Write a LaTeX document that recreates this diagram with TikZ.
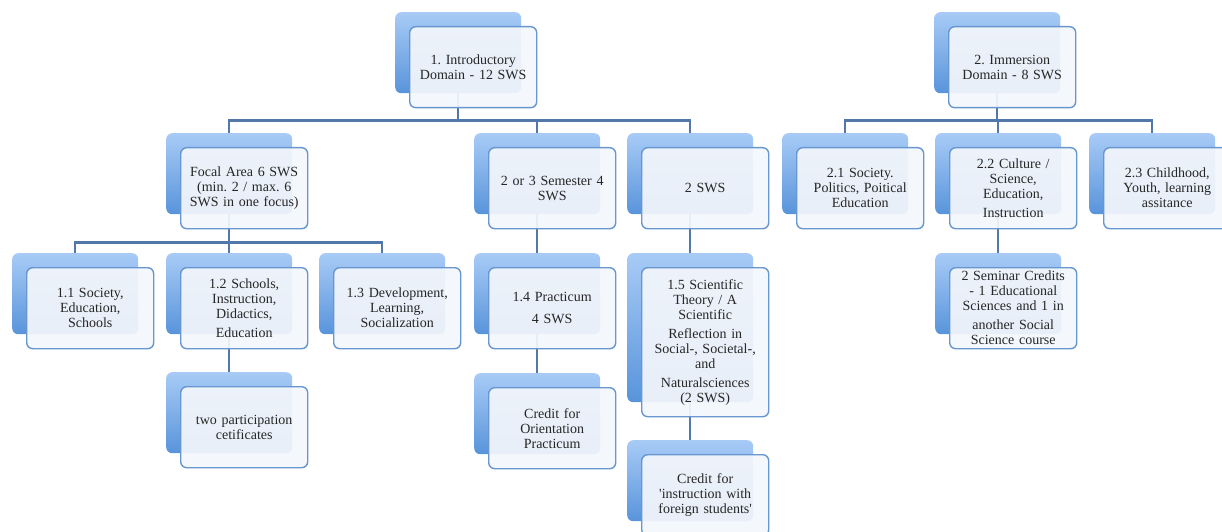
\documentclass[tikz,border=0pt]{standalone}
\usepackage{fontspec}
\setmainfont{Liberation Serif}
\usetikzlibrary{backgrounds}
\definecolor{backtop}{RGB}{168,203,246}
\definecolor{backbot}{RGB}{88,148,219}
\definecolor{frontfill}{RGB}{243,246,251}
\definecolor{frontline}{RGB}{104,150,206}
\definecolor{linkblue}{RGB}{82,120,170}
% [height]{name}{x}{y}{text}: blue card behind, light card in front
\newcommand{\sabox}[5][81]{%
  \node[backbox,minimum height=#1] (#2b) at (#3,#4) {};
  \node[frontbox,minimum height=#1] (#2) at ([shift={(14,-14)}]#2b.north west) {#5};}
\begin{document}
\frenchspacing
\begin{tikzpicture}[x=1pt,y=1pt,
    backbox/.style={anchor=north west,minimum width=126pt,inner sep=0pt,rounded corners=6pt,
      top color=backtop,bottom color=backbot},
    frontbox/.style={anchor=north west,minimum width=127pt,text width=118pt,align=center,
      inner sep=2pt,rounded corners=6pt,draw=frontline,line width=1.4pt,fill=frontfill,
      fill opacity=0.93,text opacity=1,text=black!85,font=\fontsize{14}{15}\selectfont},
    conn/.style={draw=linkblue,line width=2.4pt}]
    \useasboundingbox (0,0) rectangle (1222,531);
    % first row
    \sabox{n1}{395}{519}{1. Introductory\\Domain - 12 SWS}
    \sabox{n2}{934}{519}{2. Immersion\\Domain - 8 SWS}
    % second row
    \sabox{fa}{166}{398}{Focal Area 6 SWS\\(min. 2 / max. 6\\SWS in one focus)}
    \sabox{sem}{474}{398}{2 or 3 Semester 4\\SWS}
    \sabox{two}{627}{398}{2 SWS}
    \sabox{n21}{782}{398}{2.1 Society.\\Politics, Poitical\\Education}
    \sabox{n22}{935}{398}{2.2 Culture /\\Science,\\Education,\\[4pt]Instruction}
    \sabox{n23}{1089}{398}{2.3 Childhood,\\Youth, learning\\assitance}
    % third row
    \sabox{n11}{12}{278}{1.1 Society,\\Education,\\Schools}
    \sabox{n12}{166}{278}{1.2 Schools,\\Instruction,\\Didactics,\\[4pt]Education}
    \sabox{n13}{319}{278}{1.3 Development,\\Learning,\\Socialization}
    \sabox{n14}{474}{278}{1.4 Practicum\\[7pt]4 SWS}
    \sabox[149]{n15}{627}{278}{1.5 Scientific\\Theory / A\\Scientific\\[4pt]Reflection in\\Social-, Societal-,\\and\\[4pt]Naturalsciences\\(2 SWS)}
    \sabox{sem22}{935}{278}{2 Seminar Credits\\- 1 Educational\\Sciences and 1 in\\[4pt]another Social\\Science course}
    % fourth row
    \sabox{cert}{166}{159}{two participation\\cetificates}
    \sabox{orient}{474}{158}{Credit for\\Orientation\\Practicum}
    \sabox{foreign}{627}{91}{Credit for\\\textquotesingle instruction with\\foreign students\textquotesingle}
    % connectors
    \begin{scope}[on background layer]
      \foreach \kid in {fab,semb,twob}
        \draw[conn] (n1b.south) -- ++(0,-27) -| (\kid.north);
      \foreach \kid in {n21b,n22b,n23b}
        \draw[conn] (n2b.south) -- ++(0,-27) -| (\kid.north);
      \foreach \kid in {n11b,n12b,n13b}
        \draw[conn] (fab.south) -- ++(0,-28) -| (\kid.north);
      \draw[conn] (n12b.south) -- (certb.north);
      \draw[conn] (semb.south) -- (n14b.north);
      \draw[conn] (twob.south) -- (n15b.north);
      \draw[conn] (n14b.south) -- (orientb.north);
      \draw[conn] (n15b.south) -- (foreignb.north);
      \draw[conn] (n22b.south) -- (sem22b.north);
    \end{scope}
\end{tikzpicture}
\end{document}
